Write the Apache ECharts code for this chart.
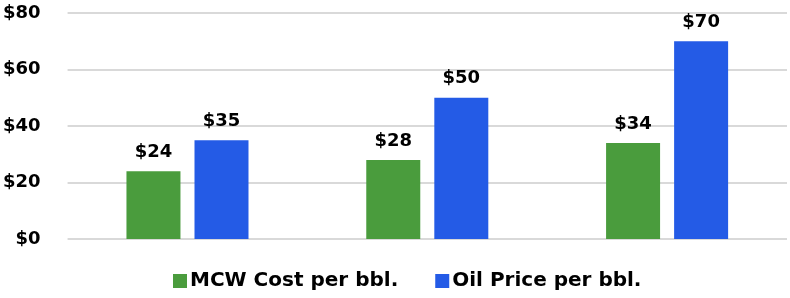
<!DOCTYPE html>
<html><head><meta charset="utf-8">
<script src="https://cdn.jsdelivr.net/npm/echarts@6/dist/echarts.min.js"></script>
<style>html,body{margin:0;padding:0;background:#fff}#c{width:790px;height:298px}</style>
</head><body><div id="c"></div>
<script>
const categories = ['A', 'B', 'C'];
const mcwCost = [24, 28, 34];
const oilPrice = [35, 50, 70];
const yTicks = [0, 20, 40, 60, 80];

const chart = echarts.init(document.getElementById('c'), null, {renderer: 'canvas'});
const font = 'DejaVu Sans, sans-serif';
const lbl = {show: true, position: 'top', distance: 10, formatter: p => '$' + p.value,
  fontFamily: font, fontWeight: 'bold', fontSize: 18, color: '#000'};
chart.setOption({
  animation: false,
  grid: {left: 67, right: 3, top: 13, bottom: 59},
  legend: {
    bottom: 2, left: 168, itemWidth: 14, itemHeight: 14, itemGap: 37,
    icon: 'rect',
    textStyle: {fontFamily: font, fontWeight: 'bold', fontSize: 20, color: '#000', padding: [0,0,0,-2]},
    data: ['MCW Cost per bbl.', 'Oil Price per bbl.']
  },
  xAxis: {
    type: 'category', data: categories,
    axisLine: {show: false}, axisTick: {show: false}, axisLabel: {show: false}
  },
  yAxis: {
    type: 'value', min: yTicks[0], max: yTicks[yTicks.length - 1], interval: 20,
    axisLine: {show: false}, axisTick: {show: false},
    axisLabel: {formatter: v => '$' + v, fontFamily: font, fontWeight: 'bold', fontSize: 18, color: '#000', margin: 27},
    splitLine: {lineStyle: {color: '#d9d9d9', width: 2}}
  },
  series: [
    {name: 'MCW Cost per bbl.', type: 'bar', data: mcwCost, barWidth: 54, barGap: '26%',
     itemStyle: {color: '#4a9c3d'}, label: lbl},
    {name: 'Oil Price per bbl.', type: 'bar', data: oilPrice, barWidth: 54,
     itemStyle: {color: '#245be6'}, label: lbl}
  ]
});
</script></body></html>
